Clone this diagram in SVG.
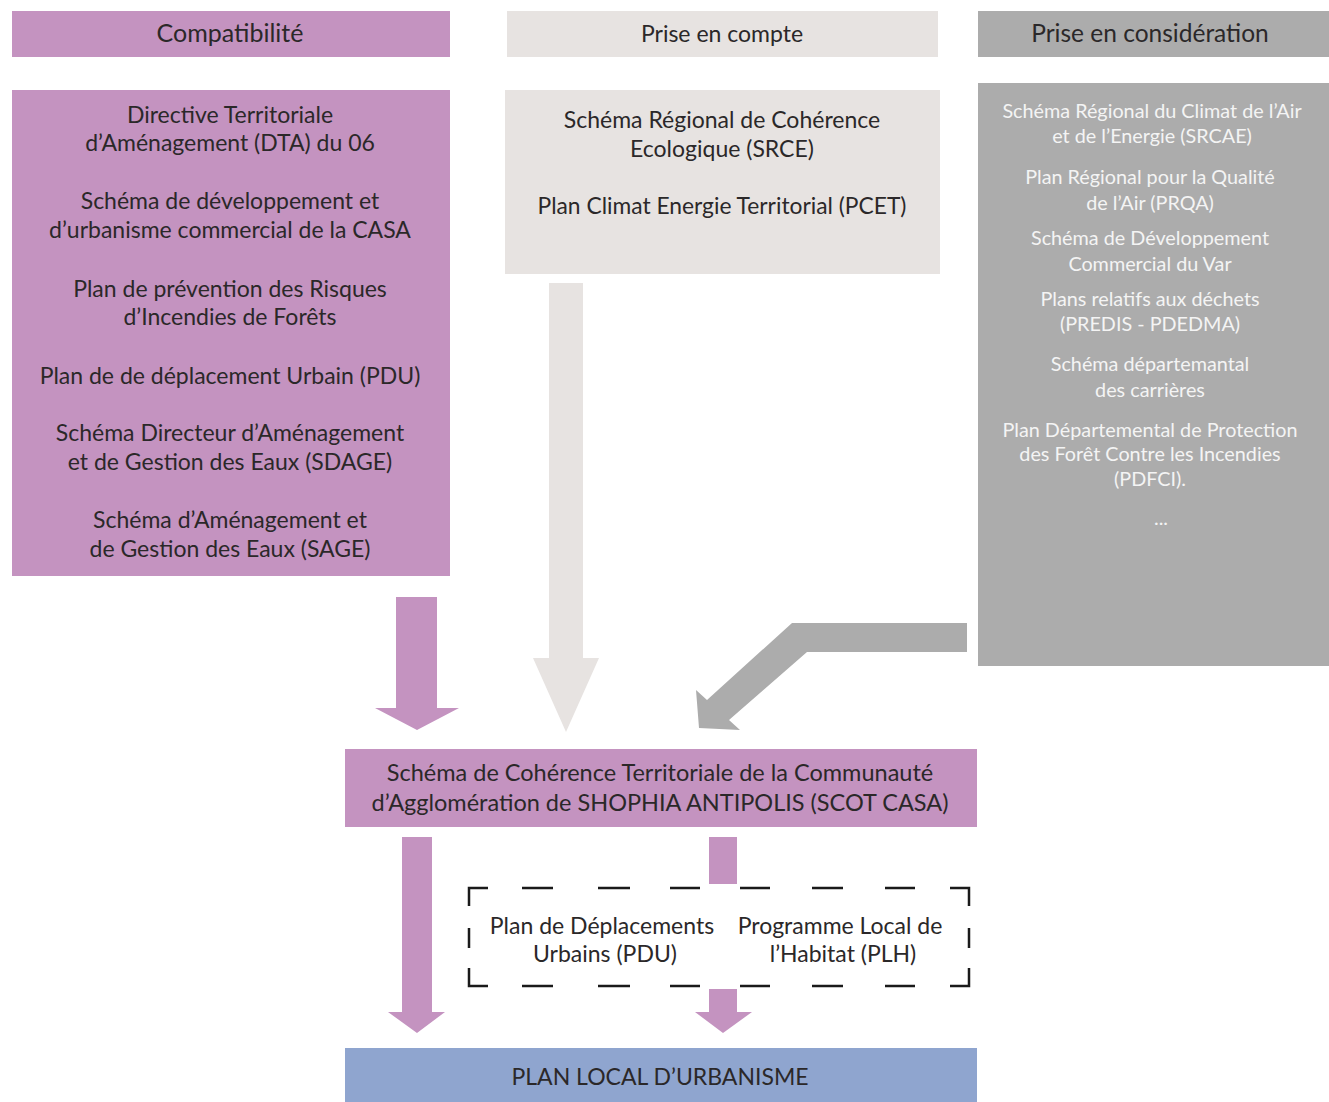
<svg xmlns="http://www.w3.org/2000/svg" width="1329" height="1102" viewBox="0 0 1329 1102">
<style>
text{font-family:Lato,"Open Sans","Liberation Sans",sans-serif;text-anchor:middle;fill:#2b2829}
.p{fill:#c493c0}
.lg{fill:#e7e3e1}
.g{fill:#acacac}
.b{fill:#8fa5cf}
.t22{font-size:23px}
.t23{font-size:23.5px}
.w{fill:#f4f4f4;font-size:19.8px}
.dash{fill:none;stroke:#1a1a1a;stroke-width:2.5}
</style>
<rect width="1329" height="1102" fill="#ffffff"/>
<g id="hdr-compat">
<rect class="p" x="12" y="11" width="438" height="46"/>
<text x="230" y="42" style="font-size:25px">Compatibilité</text>
</g>
<g id="hdr-compte">
<rect class="lg" x="507" y="11" width="431" height="46"/>
<text class="t22" x="722" y="42">Prise en compte</text>
</g>
<g id="hdr-consid">
<rect class="g" x="978" y="11" width="351" height="46"/>
<text x="1150" y="42" style="font-size:24.5px">Prise en considération</text>
</g>
<g id="box-compat">
<rect class="p" x="12" y="90" width="438" height="486"/>
<text class="t22" x="230" y="123">Directive Territoriale</text>
<text class="t22" x="230" y="151">d’Aménagement (DTA) du 06</text>
<text class="t22" x="230" y="209">Schéma de développement et</text>
<text class="t22" x="230" y="238">d’urbanisme commercial de la CASA</text>
<text class="t22" x="230" y="297">Plan de prévention des Risques</text>
<text class="t22" x="230" y="325">d’Incendies de Forêts</text>
<text class="t22" x="230" y="384">Plan de de déplacement Urbain (PDU)</text>
<text class="t22" x="230" y="441">Schéma Directeur d’Aménagement</text>
<text class="t22" x="230" y="470">et de Gestion des Eaux (SDAGE)</text>
<text class="t22" x="230" y="528">Schéma d’Aménagement et</text>
<text class="t22" x="230" y="557">de Gestion des Eaux (SAGE)</text>
</g>
<g id="box-compte">
<rect class="lg" x="505" y="90" width="435" height="184"/>
<text class="t22" x="722" y="128">Schéma Régional de Cohérence</text>
<text class="t22" x="722" y="157">Ecologique (SRCE)</text>
<text x="722" y="214" style="font-size:22.8px">Plan Climat Energie Territorial (PCET)</text>
</g>
<g id="box-consid">
<rect class="g" x="978" y="83" width="351" height="583"/>
<text class="w" x="1152" y="118">Schéma Régional du Climat de l’Air</text>
<text class="w" x="1152" y="143">et de l’Energie  (SRCAE)</text>
<text class="w" x="1150" y="184">Plan Régional pour la Qualité</text>
<text class="w" x="1150" y="210">de l’Air (PRQA)</text>
<text class="w" x="1150" y="245">Schéma de Développement</text>
<text class="w" x="1150" y="271">Commercial du Var</text>
<text class="w" x="1150" y="306">Plans relatifs aux déchets</text>
<text class="w" x="1150" y="331">(PREDIS - PDEDMA)</text>
<text class="w" x="1150" y="371">Schéma départemantal</text>
<text class="w" x="1150" y="397">des carrières</text>
<text class="w" x="1150" y="437">Plan Départemental de Protection</text>
<text class="w" x="1150" y="461">des Forêt Contre les Incendies</text>
<text class="w" x="1150" y="486">(PDFCI).</text>
<text class="w" x="1161" y="525">...</text>
</g>
<g id="scot">
<rect class="p" x="345" y="749" width="632" height="78"/>
<text class="t23" x="660" y="781">Schéma de Cohérence Territoriale de la Communauté</text>
<text class="t23" x="660" y="811">d’Agglomération de SHOPHIA ANTIPOLIS (SCOT CASA)</text>
</g>
<g id="pdu-plh">
<path class="dash" d="M469,906V888H488M522,888H553M598,888H630M670,888H700M740,888H770M812,888H843M885,888H915M950,888H969V906M469,968V986H488M522,986H553M598,986H630M670,986H700M740,986H770M812,986H843M885,986H915M950,986H969V968M469,928V948M969,928V948"/>
<text class="t22" x="602" y="934">Plan de Déplacements</text>
<text class="t22" x="605" y="962">Urbains (PDU)</text>
<text class="t22" x="840" y="934">Programme Local de</text>
<text class="t22" x="843" y="962">l’Habitat (PLH)</text>
</g>
<g id="plu">
<rect class="b" x="345" y="1048" width="632" height="54"/>
<text class="t22" x="660" y="1085">PLAN  LOCAL D’URBANISME</text>
</g>
<g id="connectors">
<polygon class="p" points="396,597 437,597 437,708 459,708 417,730 375,708 396,708"/>
<polygon class="lg" points="549,283 583,283 583,658 599,658 566,732 533,658 549,658"/>
<polygon class="g" points="967,623 792,623 707,700 696,690 699,728 740,730 729,720 807,652 967,652"/>
<polygon class="p" points="402,837 432,837 432,1012 445,1012 417,1033 388,1012 402,1012"/>
<rect class="p" x="709" y="837" width="28" height="47"/>
<polygon class="p" points="709,989 737,989 737,1012 752,1012 723,1033 695,1012 709,1012"/>
</g>
</svg>
